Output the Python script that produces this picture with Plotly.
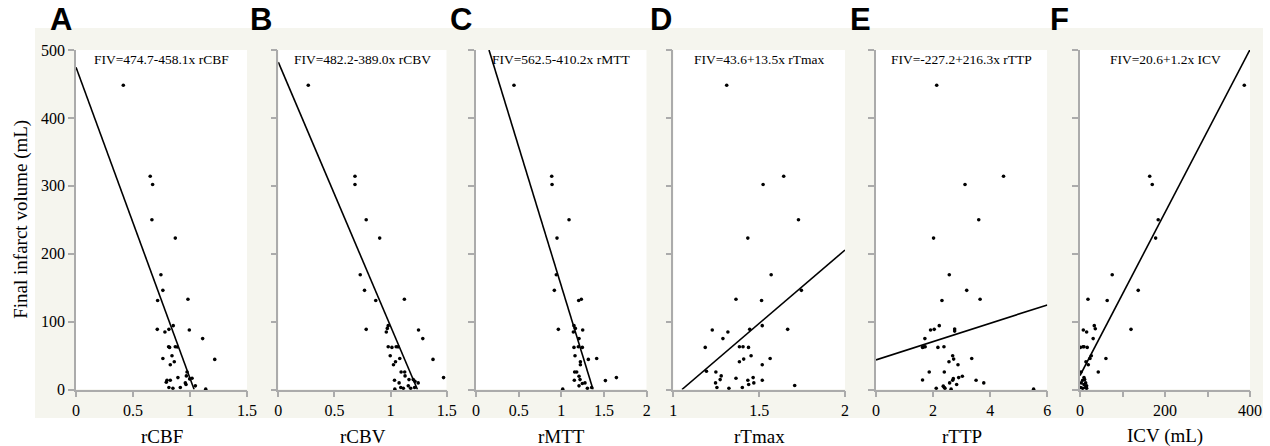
import plotly.graph_objects as go

W, H = 1270, 446

# ---------------- data ----------------
panel_letters = ["A", "B", "C", "D", "E", "F"]
x_titles = ["rCBF", "rCBV", "rMTT", "rTmax", "rTTP", "ICV (mL)"]
equations = ["FIV=474.7-458.1x rCBF", "FIV=482.2-389.0x rCBV", "FIV=562.5-410.2x rMTT",
             "FIV=43.6+13.5x rTmax", "FIV=-227.2+216.3x rTTP", "FIV=20.6+1.2x ICV"]
# drawn regression lines (intercept, slope)
line_intercepts = [474.7, 482.2, 562.5, -227.2, 43.6, 20.6]
line_slopes = [-458.1, -389.0, -410.2, 216.3, 13.5, 1.2]
x_ranges = [[0, 1.5], [0, 1.5], [0, 2], [1, 2], [0, 6], [0, 400]]
x_tickvals = [[0, 0.5, 1, 1.5], [0, 0.5, 1, 1.5], [0, 0.5, 1, 1.5, 2], [1, 1.5, 2],
              [0, 2, 4, 6], [0, 100, 200, 300, 400]]
x_ticktext = [["0", "0.5", "1", "1.5"], ["0", "0.5", "1", "1.5"], ["0", "0.5", "1", "1.5", "2"],
              ["1", "1.5", "2"], ["0", "2", "4", "6"], ["0", "", "200", "", "400"]]
y_range = [0, 500]
y_tickvals = [0, 100, 200, 300, 400, 500]

A_x = [0.415, 0.651, 0.672, 0.666, 0.871, 0.745, 0.762, 0.716, 0.982, 0.713, 0.780, 0.815, 0.853,
       0.994, 1.111, 0.812, 0.821, 0.871, 0.889, 0.842, 0.762, 0.862, 0.827, 1.217, 0.974, 0.968,
       0.997, 1.018, 0.894, 0.798, 0.792, 0.827, 0.959, 0.965, 1.047, 0.815, 0.850, 0.915, 1.138]
A_y = [448, 314, 302, 250, 223, 169, 146, 131, 133, 88.6, 84.7, 88.6, 94, 87.6, 75, 63, 62, 63,
       62.5, 49.6, 45.7, 40.9, 36.5, 44.3, 25.8, 20, 15.6, 16.5, 17.5, 13.6, 10.7, 13.6, 9.7, 7.3,
       5.4, 2.9, 1.9, 2.9, 0.5]

B_x = [0.267, 0.683, 0.683, 0.783, 0.903, 0.730, 0.768, 0.868, 1.123, 0.783, 0.979, 0.971, 0.962,
       1.249, 1.287, 0.979, 1.012, 1.050, 1.067, 0.997, 1.082, 1.044, 1.026, 1.378, 1.094, 1.126,
       1.129, 1.164, 1.202, 1.217, 1.246, 1.035, 1.076, 1.158, 1.091, 1.114, 1.179, 1.214, 1.038,
       1.472]
B_y = [448, 314, 302, 250, 223, 169, 146, 131, 133, 88.6, 94, 90, 84.7, 87.6, 75, 63, 62, 63, 62.8,
       49.6, 45.7, 40.9, 36.5, 44.3, 25.8, 25.8, 20, 14.6, 14.6, 12, 9.7, 13.6, 9.7, 5.4, 2.9, 1.9,
       1.9, 2.9, 0.5, 17.5]

C_x = [0.445, 0.887, 0.891, 1.090, 0.949, 0.941, 0.918, 1.203, 1.234, 0.965, 1.148, 1.164, 1.141,
       1.250, 1.207, 1.148, 1.199, 1.246, 1.160, 1.316, 1.414, 1.223, 1.223, 1.156, 1.180, 1.207,
       1.219, 1.152, 1.246, 1.277, 1.207, 1.516, 1.645, 1.305, 1.355, 1.016]
C_y = [448, 314, 302, 250, 223, 169, 146, 131, 133, 88.6, 94, 90, 84.7, 87.6, 75, 62, 63, 62, 49.6,
       44.3, 45.7, 40.9, 36.5, 25.8, 25.8, 19.5, 14.6, 13.6, 8.8, 9.7, 5.4, 13.1, 17.5, 1.9, 2.9,
       0.5]

D_x = [1.311, 1.643, 1.523, 1.729, 1.434, 1.570, 1.746, 1.365, 1.514, 1.227, 1.318, 1.445, 1.518,
       1.666, 1.289, 1.186, 1.385, 1.406, 1.438, 1.453, 1.410, 1.385, 1.564, 1.518, 1.193, 1.248,
       1.279, 1.273, 1.246, 1.254, 1.365, 1.465, 1.434, 1.469, 1.439, 1.518, 1.324, 1.402, 1.707]
D_y = [448, 314, 302, 250, 223, 169, 146, 133, 131, 87.6, 84.7, 88.6, 94, 88.6, 75, 62, 63, 63, 62,
       49.6, 44.8, 40.9, 45.7, 36.5, 26.8, 25.8, 20, 14.6, 9.7, 2.9, 16.5, 17.5, 13.6, 9.7, 7.3,
       13.6, 1.9, 2.9, 5.8]

E_x = [2.126, 4.467, 3.118, 3.599, 2.016, 2.567, 3.177, 3.646, 2.310, 1.911, 2.040, 2.216, 2.755,
       2.755, 1.712, 1.630, 1.723, 1.676, 2.169, 2.380, 2.685, 2.720, 2.556, 2.872, 3.353, 1.864,
       2.392, 1.630, 2.708, 2.685, 2.896, 3.025, 2.579, 2.825, 3.505, 3.775, 2.110, 2.356, 2.392,
       2.415, 2.630, 5.520]
E_y = [448, 314, 302, 250, 223, 169, 146, 133, 131, 87.6, 88.6, 94, 89, 86, 75, 62, 63, 62.8, 62,
       63, 49.6, 44.8, 40.9, 36.5, 45.7, 25.8, 25.8, 14.1, 16, 13.6, 17.5, 19.5, 9.7, 7.3, 13.6,
       9.7, 1.9, 4.9, 2.9, 1.9, 0.5, 0.5]

F_x = [386.6, 164, 170, 184, 178, 75.8, 137, 18.8, 64, 120, 7.8, 15.6, 33.6, 36, 31, 0.8, 7, 9.4,
       17, 26.6, 23.4, 14, 19.5, 61, 43, 2.3, 9.4, 11, 6.3, 13.3, 3, 9.4, 15.6, 1.6, 6.3, 12.5, 15.6]
F_y = [448, 314, 302, 250, 223, 169, 146, 133, 131, 88.6, 87.6, 84.7, 94, 89.5, 75, 62, 63, 63, 62,
       49.6, 45.7, 40.9, 36.5, 45.7, 25.8, 25.8, 17.5, 14.6, 13.6, 9.7, 9.7, 7.3, 5.4, 2.9, 1.9,
       2.9, 1.9]

xs_all = [A_x, B_x, C_x, D_x, E_x, F_x]
ys_all = [A_y, B_y, C_y, D_y, E_y, F_y]

# ---------------- layout geometry (pixels) ----------------
plot_left = [76, 278.3, 476, 673.3, 876, 1080]
plot_right = [247, 446.7, 646.7, 845, 1047.3, 1250]
plot_top_px, plot_bot_px = 50, 389.5
letter_left = [50, 250, 450, 650, 850, 1050]

def px(x):
    return x / W

def py(y):
    return 1 - y / H

def clipped_line(a, b, xr, yr):
    cands = [xr[0], xr[1]]
    for yb in yr:
        if b != 0:
            xi = (yb - a) / b
            if xr[0] <= xi <= xr[1]:
                cands.append(xi)
    ok = [x for x in cands if yr[0] - 1e-6 <= a + b * x <= yr[1] + 1e-6]
    x0, x1 = min(ok), max(ok)
    return [x0, x1], [a + b * x0, a + b * x1]

serif = "Liberation Serif, Times New Roman, serif"
sans = "Liberation Sans, Arial, sans-serif"
grey = "#ababab"

fig = go.Figure()
layout = dict(
    width=W, height=H, margin=dict(l=0, r=0, t=0, b=0, autoexpand=False),
    paper_bgcolor="white", plot_bgcolor="white", showlegend=False,
    shapes=[], annotations=[],
)

# beige panel background
layout["shapes"].append(dict(type="rect", xref="paper", yref="paper",
                             x0=px(35), x1=px(1263), y0=py(418), y1=py(28),
                             fillcolor="#f5f5ee", line=dict(width=0), layer="below"))

for i in range(6):
    n = "" if i == 0 else str(i + 1)
    xa, ya = "x" + n, "y" + n
    fig.add_trace(go.Scatter(x=xs_all[i], y=ys_all[i], mode="markers", xaxis=xa, yaxis=ya,
                             marker=dict(color="black", size=3.6), cliponaxis=False,
                             hoverinfo="skip"))
    lx, ly = clipped_line(line_intercepts[i], line_slopes[i], x_ranges[i], y_range)
    fig.add_trace(go.Scatter(x=lx, y=ly, mode="lines", xaxis=xa, yaxis=ya,
                             line=dict(color="black", width=1.6), hoverinfo="skip"))
    layout["xaxis" + n] = dict(
        domain=[px(plot_left[i]), px(plot_right[i])], range=x_ranges[i], anchor=ya,
        automargin=False,
        showline=True, linecolor=grey, linewidth=1.5, ticks="outside", ticklen=6,
        tickcolor=grey, tickwidth=1.5, showgrid=False, zeroline=False,
        tickvals=x_tickvals[i], ticktext=x_ticktext[i],
        tickfont=dict(family=serif, size=16, color="black"), fixedrange=True)
    layout["yaxis" + n] = dict(
        domain=[py(plot_bot_px), py(plot_top_px)], range=y_range, anchor=xa,
        automargin=False,
        showline=True, linecolor=grey, linewidth=1.5, ticks="outside", ticklen=6,
        tickcolor=grey, tickwidth=1.5, showgrid=False, zeroline=False,
        tickvals=y_tickvals, showticklabels=(i == 0),
        tickfont=dict(family=serif, size=16, color="black"), fixedrange=True)
    # white plot area
    layout["shapes"].append(dict(type="rect", xref=xa, yref=ya,
                                 x0=x_ranges[i][0], x1=x_ranges[i][1], y0=y_range[0], y1=y_range[1],
                                 fillcolor="white", line=dict(width=0), layer="below"))
    cx = px((plot_left[i] + plot_right[i]) / 2)
    layout["annotations"] += [
        dict(text="<b>" + panel_letters[i] + "</b>", xref="paper", yref="paper",
             x=px(letter_left[i] - 2), y=py(19), xanchor="left", yanchor="middle", showarrow=False,
             font=dict(family=sans, size=31, color="black")),
        dict(text=equations[i], xref="paper", yref="paper", x=cx, y=py(60),
             xanchor="center", yanchor="middle", showarrow=False,
             font=dict(family=serif, size=13.5, color="black")),
        dict(text=x_titles[i], xref="paper", yref="paper", x=cx, y=py(436),
             xanchor="center", yanchor="middle", showarrow=False,
             font=dict(family=serif, size=19, color="black")),
    ]

layout["annotations"].append(dict(
    text="Final infarct volume (mL)", xref="paper", yref="paper", x=px(21),
    y=py((plot_top_px + plot_bot_px) / 2), xanchor="center", yanchor="middle",
    textangle=-90, showarrow=False, font=dict(family=serif, size=19, color="black")))

fig.update_layout(**layout)
fig.write_html("out.html", config={"displayModeBar": False},
               post_script="document.body.style.margin='0';document.body.style.overflow='hidden';")
